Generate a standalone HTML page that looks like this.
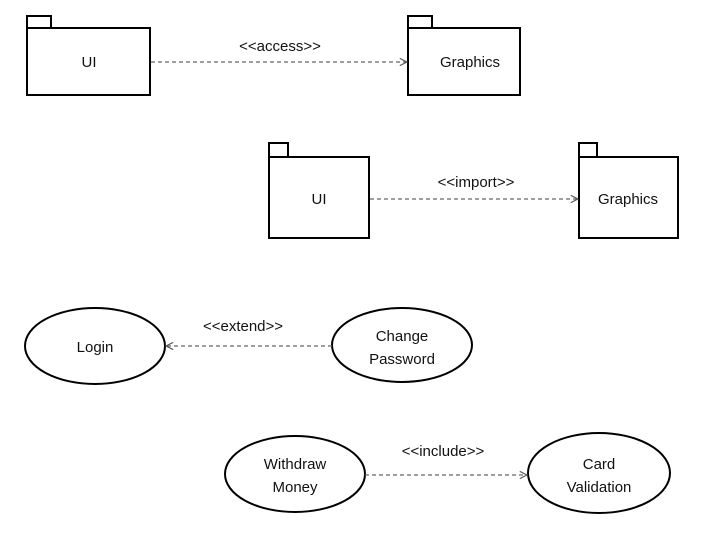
<!DOCTYPE html>
<html><head><style>body{margin:0;background:#fff}svg{display:block}text{font-family:"Liberation Sans",sans-serif;fill:#111}</style></head>
<body>
<svg width="720" height="540" viewBox="0 0 720 540">
<defs><marker id="a" markerWidth="8" markerHeight="8" refX="7" refY="4" orient="auto"><path d="M1,1 L7,4 L1,7" fill="none" stroke="#555" stroke-width="1"/></marker></defs>
<g fill="none" stroke="#000" stroke-width="2">
<rect x="27" y="16" width="24" height="12"/><rect x="27" y="28" width="123" height="67"/>
<rect x="408" y="16" width="24" height="12"/><rect x="408" y="28" width="112" height="67"/>
<rect x="269" y="143" width="19" height="14"/><rect x="269" y="157" width="100" height="81"/>
<rect x="579" y="143" width="18" height="14"/><rect x="579" y="157" width="99" height="81"/>
<ellipse cx="95" cy="346" rx="70" ry="38"/>
<ellipse cx="402" cy="345" rx="70" ry="37"/>
<ellipse cx="295" cy="474" rx="70" ry="38"/>
<ellipse cx="599" cy="473" rx="71" ry="40"/>
</g>
<g stroke="#666" stroke-width="1.2" stroke-dasharray="4,3" fill="none">
<line x1="151" y1="62" x2="407" y2="62" marker-end="url(#a)"/>
<line x1="370" y1="199" x2="578" y2="199" marker-end="url(#a)"/>
<line x1="332" y1="346" x2="166" y2="346" marker-end="url(#a)"/>
<line x1="365" y1="475" x2="527" y2="475" marker-end="url(#a)"/>
</g>
<g font-size="15" text-anchor="middle">
<text x="89" y="67">UI</text>
<text x="470" y="67">Graphics</text>
<text x="280" y="51">&lt;&lt;access&gt;&gt;</text>
<text x="319" y="204">UI</text>
<text x="628" y="204">Graphics</text>
<text x="476" y="187">&lt;&lt;import&gt;&gt;</text>
<text x="95" y="352">Login</text>
<text x="402" y="341">Change</text>
<text x="402" y="364">Password</text>
<text x="243" y="331">&lt;&lt;extend&gt;&gt;</text>
<text x="295" y="469">Withdraw</text>
<text x="295" y="492">Money</text>
<text x="599" y="469">Card</text>
<text x="599" y="492">Validation</text>
<text x="443" y="456">&lt;&lt;include&gt;&gt;</text>
</g>
</svg>
</body></html>
